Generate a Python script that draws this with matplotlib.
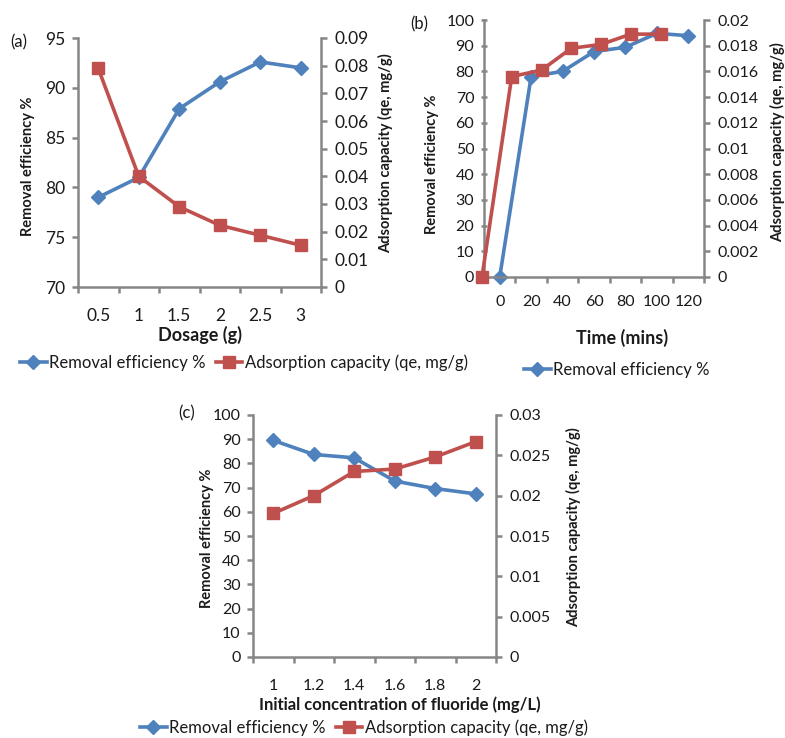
import numpy as np
import matplotlib
matplotlib.use("Agg")
import matplotlib.pyplot as plt
from matplotlib.lines import Line2D

plt.rcParams['font.family'] = ['Lato', 'DejaVu Sans']

# ---------------- data ----------------
dosage_labels = ['0.5', '1', '1.5', '2', '2.5', '3']
a_removal = [79.0, 81.0, 87.9, 90.6, 92.6, 92.0]
a_capacity = [0.079, 0.040, 0.029, 0.0223, 0.0187, 0.0151]

time_labels = ['0', '20', '40', '60', '80', '100', '120']
b_removal = [0.0, 78.0, 80.0, 87.7, 89.4, 94.8, 93.9]
b_capacity = [0.0, 0.0156, 0.0161, 0.0178, 0.0181, 0.0189, 0.0189]

conc_labels = ['1', '1.2', '1.4', '1.6', '1.8', '2']
c_removal = [89.5, 83.7, 82.3, 72.7, 69.6, 67.4]
c_capacity = [0.0178, 0.0200, 0.0230, 0.0233, 0.0248, 0.0267]

legend_removal = 'Removal efficiency %'
legend_capacity = 'Adsorption capacity (qe, mg/g)'
ylabel_left = 'Removal efficiency %'
ylabel_right = 'Adsorption capacity (qe, mg/g)'

# ---------------- style ----------------
BLUE = '#4F81BD'
RED = '#C0504D'
GRAY = '#868686'
TXT = '#1a1a1a'
W, H = 785, 738

fig = plt.figure(figsize=(W / 100, H / 100), dpi=100)


def box(l, t, r, b):
    return [l / W, 1 - b / H, (r - l) / W, (b - t) / H]


def pt(x, y):
    return x / W, 1 - y / H


def style_axes(ax, ax2, n, labels, fs, ytickdir='out', xpad=14):
    for s in ['top', 'right']:
        ax.spines[s].set_visible(False)
    for s in ['left', 'bottom']:
        ax.spines[s].set_color(GRAY)
        ax.spines[s].set_linewidth(1.8)
    for s in ['top', 'left', 'bottom']:
        ax2.spines[s].set_visible(False)
    ax2.spines['right'].set_color(GRAY)
    ax2.spines['right'].set_linewidth(1.8)
    ax.set_xlim(-0.5, n - 0.5)
    ax.set_xticks(range(n))
    ax.set_xticklabels(labels)
    ax.set_xticks(np.arange(-0.5, n, 1.0), minor=True)
    ax.tick_params(axis='x', which='major', length=0, pad=xpad,
                   labelsize=fs, labelcolor=TXT)
    ax.tick_params(axis='x', which='minor', length=4, width=1.8,
                   color=GRAY, direction='out')
    ax.tick_params(axis='y', length=4, width=1.8, color=GRAY,
                   direction=ytickdir, labelsize=fs, labelcolor=TXT, pad=5)
    ax2.tick_params(axis='y', length=4, width=1.8, color=GRAY,
                    direction='out', labelsize=fs, labelcolor=TXT, pad=6)
    ax2.tick_params(axis='x', length=0)


def fmt(v):
    s = ('%.3f' % v).rstrip('0').rstrip('.')
    return s


line_kw = dict(lw=2.6, clip_on=False)
blue_kw = dict(color=BLUE, marker='D', markersize=7, **line_kw)
red_kw = dict(color=RED, marker='s', markersize=8, **line_kw)

# ---------------- (a) ----------------
axa = fig.add_axes(box(78, 38, 321, 287))
axa2 = axa.twinx()
xa = np.arange(len(dosage_labels))
axa.plot(xa, a_removal, **blue_kw)
axa2.plot(xa, a_capacity, **red_kw)
axa.set_ylim(70, 95)
axa.set_yticks(np.arange(70, 96, 5))
axa2.set_ylim(0, 0.09)
yt = np.arange(0, 0.0901, 0.01)
axa2.set_yticks(yt)
axa2.set_yticklabels([fmt(v) for v in yt])
style_axes(axa, axa2, len(dosage_labels), dosage_labels, 12.5, xpad=15)

fig.text(*pt(10, 42), '(a)', fontsize=12, color=TXT, va='center')
fig.text(*pt(28, 166), ylabel_left, rotation=90, fontsize=10.5,
         fontweight='bold', ha='center', va='center', color=TXT)
fig.text(*pt(386, 153), ylabel_right, rotation=90, fontsize=10.5,
         fontweight='bold', ha='center', va='center', color=TXT)
fig.text(*pt(200, 335), 'Dosage (g)', fontsize=13, fontweight='bold',
         ha='center', va='center', color=TXT)

# ---------------- (b) ----------------
axb = fig.add_axes(box(484, 20, 704, 277))
axb2 = axb.twinx()
xb = np.arange(len(time_labels))
axb.plot(xb, b_removal, **blue_kw)
axb.set_ylim(0, 100)
axb.set_yticks(np.arange(0, 101, 10))
axb2.set_ylim(0, 0.02)
ytb = np.arange(0, 0.02001, 0.002)
axb2.set_yticks(ytb)
axb2.set_yticklabels([fmt(v) for v in ytb])
style_axes(axb, axb2, len(time_labels), time_labels, 11.5,
           ytickdir='inout', xpad=13)
# secondary category axis for the capacity series (offset as in original)
axb4 = fig.add_axes(box(484, 20, 704, 277), sharey=axb2)
axb4.set_axis_off()
axb4.patch.set_visible(False)
axb4.set_xlim(0.068, 7.46)
axb4.plot(xb, b_capacity, **red_kw)

fig.text(*pt(410, 24), '(b)', fontsize=12, color=TXT, va='center')
fig.text(*pt(432, 164), ylabel_left, rotation=90, fontsize=10.5,
         fontweight='bold', ha='center', va='center', color=TXT)
fig.text(*pt(778, 142), ylabel_right, rotation=90, fontsize=10.5,
         fontweight='bold', ha='center', va='center', color=TXT)
fig.text(*pt(622, 338), 'Time (mins)', fontsize=13, fontweight='bold',
         ha='center', va='center', color=TXT)

# ---------------- (c) ----------------
axc = fig.add_axes(box(253, 415, 496, 657))
axc2 = axc.twinx()
xc = np.arange(len(conc_labels))
axc.plot(xc, c_removal, **blue_kw)
axc2.plot(xc, c_capacity, **red_kw)
axc.set_ylim(0, 100)
axc.set_yticks(np.arange(0, 101, 10))
axc2.set_ylim(0, 0.03)
ytc = np.arange(0, 0.03001, 0.005)
axc2.set_yticks(ytc)
axc2.set_yticklabels([fmt(v) for v in ytc])
style_axes(axc, axc2, len(conc_labels), conc_labels, 11.5, xpad=16)

fig.text(*pt(178, 413), '(c)', fontsize=12, color=TXT, va='center')
fig.text(*pt(207, 538), ylabel_left, rotation=90, fontsize=10.5,
         fontweight='bold', ha='center', va='center', color=TXT)
fig.text(*pt(574, 527), ylabel_right, rotation=90, fontsize=10.5,
         fontweight='bold', ha='center', va='center', color=TXT)
fig.text(*pt(400, 705), 'Initial concentration of fluoride (mg/L)',
         fontsize=12, fontweight='bold', ha='center', va='center', color=TXT)

# ---------------- legends ----------------
h_blue = Line2D([], [], color=BLUE, marker='D', markersize=7, lw=2.6)
h_red = Line2D([], [], color=RED, marker='s', markersize=8, lw=2.6)
leg_kw = dict(frameon=False, fontsize=12, handlelength=1.6,
              handletextpad=0.15, columnspacing=0.6, borderpad=0,
              borderaxespad=0, labelcolor=TXT)

fig.legend([h_blue, h_red], [legend_removal, legend_capacity], ncol=2,
           loc='center left', bbox_to_anchor=pt(20, 363), **leg_kw)
fig.legend([h_blue], [legend_removal], loc='center left',
           bbox_to_anchor=pt(524, 370), **leg_kw)
fig.legend([h_blue, h_red], [legend_removal, legend_capacity], ncol=2,
           loc='center left', bbox_to_anchor=pt(140, 728), **leg_kw)

fig.savefig('out.png', dpi=100)
